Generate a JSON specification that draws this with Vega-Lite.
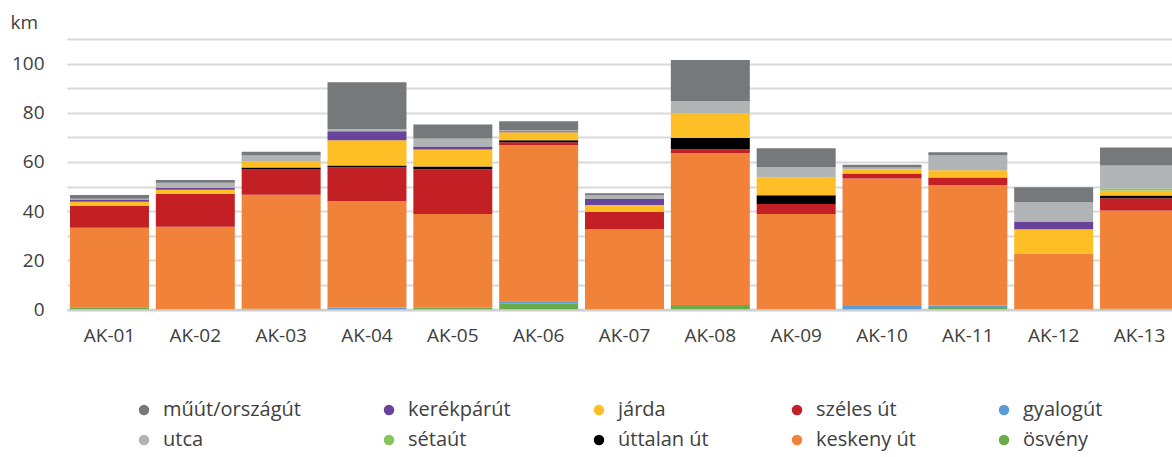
{
  "$schema": "https://vega.github.io/schema/vega-lite/v6.json",
  "autosize": {"type": "none"},
  "padding": {"left": 67, "top": 39, "right": 0, "bottom": 148},
  "width": 1105,
  "height": 270.5,
  "config": {
    "font": "Open Sans",
    "view": {"stroke": null},
    "background": "#ffffff"
  },
  "data": {
    "values": [
      {"id": "AK-01", "type": "ösvény", "km": 0.95},
      {"id": "AK-01", "type": "keskeny út", "km": 32.25},
      {"id": "AK-01", "type": "széles út", "km": 9.0},
      {"id": "AK-01", "type": "járda", "km": 1.6},
      {"id": "AK-01", "type": "kerékpárút", "km": 0.95},
      {"id": "AK-01", "type": "utca", "km": 0.25},
      {"id": "AK-01", "type": "műút/országút", "km": 1.6},
      {"id": "AK-02", "type": "keskeny út", "km": 33.6},
      {"id": "AK-02", "type": "széles út", "km": 13.5},
      {"id": "AK-02", "type": "járda", "km": 1.6},
      {"id": "AK-02", "type": "kerékpárút", "km": 0.8},
      {"id": "AK-02", "type": "utca", "km": 2.0},
      {"id": "AK-02", "type": "műút/országút", "km": 1.2},
      {"id": "AK-03", "type": "ösvény", "km": 0.3},
      {"id": "AK-03", "type": "keskeny út", "km": 46.4},
      {"id": "AK-03", "type": "széles út", "km": 10.2},
      {"id": "AK-03", "type": "úttalan út", "km": 0.8},
      {"id": "AK-03", "type": "járda", "km": 2.4},
      {"id": "AK-03", "type": "utca", "km": 2.5},
      {"id": "AK-03", "type": "műút/országút", "km": 1.6},
      {"id": "AK-04", "type": "gyalogút", "km": 0.8},
      {"id": "AK-04", "type": "keskeny út", "km": 43.2},
      {"id": "AK-04", "type": "széles út", "km": 13.8},
      {"id": "AK-04", "type": "úttalan út", "km": 0.8},
      {"id": "AK-04", "type": "járda", "km": 10.2},
      {"id": "AK-04", "type": "kerékpárút", "km": 3.7},
      {"id": "AK-04", "type": "utca", "km": 0.8},
      {"id": "AK-04", "type": "műút/országút", "km": 19.1},
      {"id": "AK-05", "type": "ösvény", "km": 0.7},
      {"id": "AK-05", "type": "keskeny út", "km": 38.1},
      {"id": "AK-05", "type": "széles út", "km": 18.2},
      {"id": "AK-05", "type": "úttalan út", "km": 1.2},
      {"id": "AK-05", "type": "járda", "km": 6.9},
      {"id": "AK-05", "type": "kerékpárút", "km": 1.2},
      {"id": "AK-05", "type": "utca", "km": 3.2},
      {"id": "AK-05", "type": "műút/országút", "km": 5.7},
      {"id": "AK-06", "type": "ösvény", "km": 2.3},
      {"id": "AK-06", "type": "gyalogút", "km": 1.1},
      {"id": "AK-06", "type": "keskeny út", "km": 63.4},
      {"id": "AK-06", "type": "széles út", "km": 1.2},
      {"id": "AK-06", "type": "úttalan út", "km": 0.8},
      {"id": "AK-06", "type": "járda", "km": 3.3},
      {"id": "AK-06", "type": "kerékpárút", "km": 0.4},
      {"id": "AK-06", "type": "utca", "km": 0.4},
      {"id": "AK-06", "type": "műút/országút", "km": 3.7},
      {"id": "AK-07", "type": "keskeny út", "km": 32.7},
      {"id": "AK-07", "type": "széles út", "km": 6.9},
      {"id": "AK-07", "type": "járda", "km": 2.9},
      {"id": "AK-07", "type": "kerékpárút", "km": 2.4},
      {"id": "AK-07", "type": "utca", "km": 1.6},
      {"id": "AK-07", "type": "műút/országút", "km": 0.8},
      {"id": "AK-08", "type": "ösvény", "km": 1.4},
      {"id": "AK-08", "type": "gyalogút", "km": 0.4},
      {"id": "AK-08", "type": "keskeny út", "km": 61.8},
      {"id": "AK-08", "type": "széles út", "km": 1.6},
      {"id": "AK-08", "type": "úttalan út", "km": 4.5},
      {"id": "AK-08", "type": "járda", "km": 10.2},
      {"id": "AK-08", "type": "utca", "km": 4.9},
      {"id": "AK-08", "type": "műút/országút", "km": 16.7},
      {"id": "AK-09", "type": "keskeny út", "km": 38.8},
      {"id": "AK-09", "type": "széles út", "km": 4.1},
      {"id": "AK-09", "type": "úttalan út", "km": 3.6},
      {"id": "AK-09", "type": "járda", "km": 7.3},
      {"id": "AK-09", "type": "utca", "km": 4.1},
      {"id": "AK-09", "type": "műút/országút", "km": 7.7},
      {"id": "AK-10", "type": "gyalogút", "km": 1.4},
      {"id": "AK-10", "type": "keskeny út", "km": 51.9},
      {"id": "AK-10", "type": "széles út", "km": 2.0},
      {"id": "AK-10", "type": "járda", "km": 1.6},
      {"id": "AK-10", "type": "utca", "km": 0.8},
      {"id": "AK-10", "type": "műút/országút", "km": 1.2},
      {"id": "AK-11", "type": "ösvény", "km": 0.6},
      {"id": "AK-11", "type": "gyalogút", "km": 1.0},
      {"id": "AK-11", "type": "keskeny út", "km": 48.9},
      {"id": "AK-11", "type": "széles út", "km": 3.2},
      {"id": "AK-11", "type": "járda", "km": 2.9},
      {"id": "AK-11", "type": "utca", "km": 6.1},
      {"id": "AK-11", "type": "műút/országút", "km": 1.2},
      {"id": "AK-12", "type": "keskeny út", "km": 22.8},
      {"id": "AK-12", "type": "járda", "km": 9.8},
      {"id": "AK-12", "type": "kerékpárút", "km": 3.2},
      {"id": "AK-12", "type": "utca", "km": 7.8},
      {"id": "AK-12", "type": "műút/országút", "km": 6.1},
      {"id": "AK-13", "type": "ösvény", "km": 0.3},
      {"id": "AK-13", "type": "keskeny út", "km": 40.0},
      {"id": "AK-13", "type": "széles út", "km": 4.9},
      {"id": "AK-13", "type": "úttalan út", "km": 1.2},
      {"id": "AK-13", "type": "járda", "km": 2.0},
      {"id": "AK-13", "type": "sétaút", "km": 0.8},
      {"id": "AK-13", "type": "utca", "km": 9.4},
      {"id": "AK-13", "type": "műút/országút", "km": 7.3}
    ]
  },
  "transform": [
    {
      "lookup": "type",
      "from": {
        "data": {
          "values": [
            {"type": "ösvény", "rank": 1},
            {"type": "gyalogút", "rank": 2},
            {"type": "keskeny út", "rank": 3},
            {"type": "széles út", "rank": 4},
            {"type": "úttalan út", "rank": 5},
            {"type": "járda", "rank": 6},
            {"type": "sétaút", "rank": 7},
            {"type": "kerékpárút", "rank": 8},
            {"type": "utca", "rank": 9},
            {"type": "műút/országút", "rank": 10}
          ]
        },
        "key": "type",
        "fields": ["rank"]
      }
    }
  ],
  "mark": {"type": "bar", "clip": true},
  "encoding": {
    "x": {
      "field": "id",
      "type": "nominal",
      "scale": {"range": [0, 1115], "paddingInner": 0.08, "paddingOuter": 0.035},
      "axis": {
        "title": null,
        "labelAngle": 0,
        "labelFontSize": 19,
        "labelColor": "#404040",
        "labelPadding": 17,
        "ticks": false,
        "domain": true,
        "domainColor": "#d0d0d0",
        "domainWidth": 2.5,
        "grid": false
      }
    },
    "y": {
      "field": "km",
      "type": "quantitative",
      "aggregate": "sum",
      "stack": "zero",
      "scale": {"domain": [0, 110], "nice": false},
      "axis": {
        "values": [0, 10, 20, 30, 40, 50, 60, 70, 80, 90, 100, 110],
        "labelExpr": "datum.value % 20 == 0 && datum.value < 110 ? datum.label : ''",
        "labelFontSize": 19,
        "labelColor": "#404040",
        "labelPadding": 23,
        "ticks": false,
        "domain": false,
        "grid": true,
        "gridColor": "#d9d9d9",
        "gridWidth": 1.8,
        "title": "km",
        "titleAngle": 0,
        "titleAlign": "left",
        "titleBaseline": "middle",
        "titleX": -57,
        "titleY": -17,
        "titleFontSize": 19,
        "titleFontWeight": "normal",
        "titleColor": "#404040"
      }
    },
    "color": {
      "field": "type",
      "type": "nominal",
      "scale": {
        "domain": ["műút/országút", "kerékpárút", "járda", "széles út", "gyalogút", "utca", "sétaút", "úttalan út", "keskeny út", "ösvény"],
        "range": ["#76797b", "#68439b", "#fdbe26", "#c32026", "#5a9bd5", "#b1b4b5", "#86c55a", "#000000", "#f1823a", "#6aab4b"]
      },
      "legend": {
        "title": null,
        "orient": "none",
        "legendX": 67,
        "legendY": 361,
        "direction": "horizontal",
        "columns": 5,
        "columnPadding": 78,
        "rowPadding": 10,
        "padding": 0,
        "symbolType": "circle",
        "symbolSize": 110,
        "symbolStrokeWidth": 0,
        "labelFontSize": 20,
        "labelColor": "#404040",
        "labelOffset": 9
      }
    },
    "order": {"field": "rank", "type": "quantitative", "sort": "ascending"}
  }
}
